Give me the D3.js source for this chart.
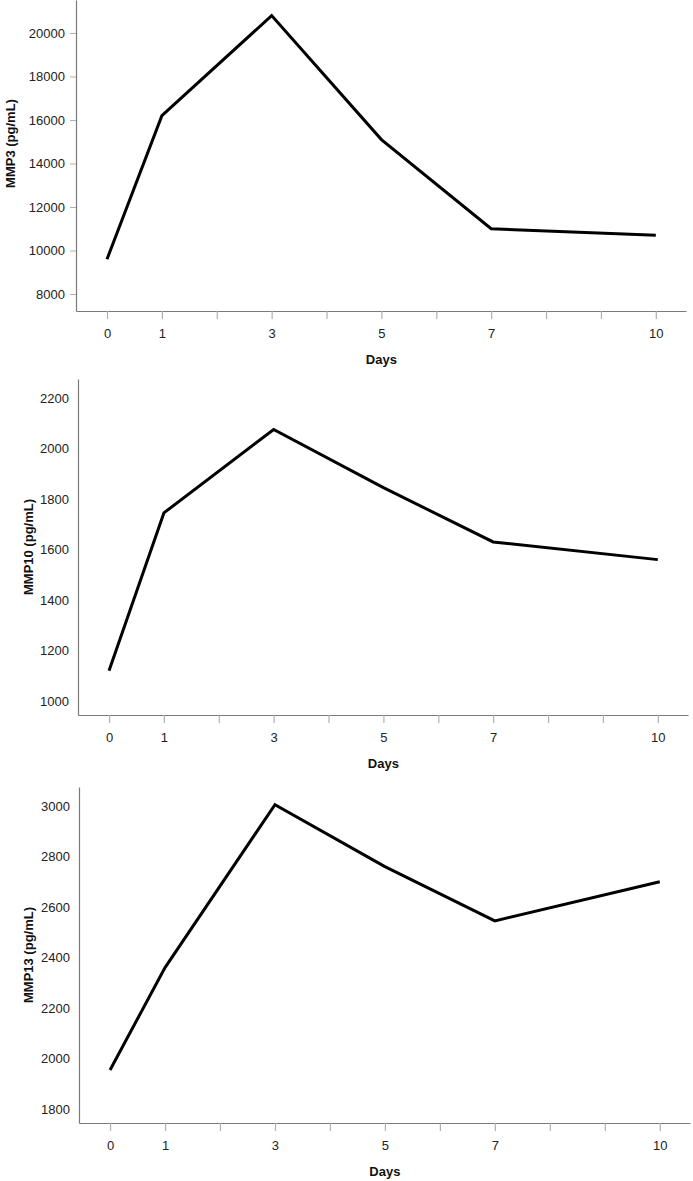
<!DOCTYPE html>
<html>
<head>
<meta charset="utf-8">
<script src="https://cdn.jsdelivr.net/npm/d3@7"></script>
<style>
  body { margin: 0; background: #fff; }
  text { font-family: "Liberation Sans", Arial, sans-serif; }
</style>
</head>
<body>
<div id="chart"></div>
<script>
// data
const days = [0, 1, 3, 5, 7, 10];
const dayLabels = [0, 1, 3, 5, 7, 10];
const mmp3 = [9600, 16200, 20800, 15100, 11000, 10700];
const mmp10 = [1120, 1745, 2075, 1845, 1630, 1560];
const mmp13 = [1955, 2360, 3005, 2760, 2545, 2700];
const mmp3Ticks = [8000, 10000, 12000, 14000, 16000, 18000, 20000];
const mmp10Ticks = [1000, 1200, 1400, 1600, 1800, 2000, 2200];
const mmp13Ticks = [1800, 2000, 2200, 2400, 2600, 2800, 3000];

const svgWidth = 693;
const svgHeight = 1181;

const svg = d3.select("#chart").append("svg")
    .attr("width", svgWidth)
    .attr("height", svgHeight);

// one panel per marker
const panels = [
    { label: "MMP3 (pg/mL)", values: mmp3, ticks: mmp3Ticks, yDomain: [7218, 21517],
      left: 76, right: 686, top: 0, bottom: 311, titleX: 10, yTicks: true },
    { label: "MMP10 (pg/mL)", values: mmp10, ticks: mmp10Ticks, yDomain: [945, 2275],
      left: 78, right: 688, top: 379, bottom: 715, titleX: 28, yTicks: false },
    { label: "MMP13 (pg/mL)", values: mmp13, ticks: mmp13Ticks, yDomain: [1745, 3075],
      left: 79, right: 690, top: 787, bottom: 1123, titleX: 28, yTicks: false },
];

panels.forEach(p => {
    const g = svg.append("g");

    const x = d3.scaleLinear()
        .domain([-0.565, 10.55])
        .range([p.left, p.right]);

    const y = d3.scaleLinear()
        .domain(p.yDomain)
        .range([p.bottom, p.top]);

    // x axis: tick at every day, labels only on sampled days
    const xAxis = g.append("g")
        .attr("transform", `translate(0,${p.bottom})`)
        .call(d3.axisBottom(x)
            .tickValues(d3.range(0, 11))
            .tickSize(8)
            .tickSizeOuter(0)
            .tickFormat(d => dayLabels.includes(d) ? d : ""));
    xAxis.select(".domain").attr("stroke", "#7a7a7a").attr("stroke-width", 1.2);
    xAxis.selectAll(".tick line").attr("stroke", "#b0b0b0").attr("stroke-width", 1.2);
    xAxis.selectAll(".tick text")
        .attr("dy", "1.25em")
        .attr("fill", "#222")
        .style("font-size", "13px");

    const yAxis = g.append("g")
        .attr("transform", `translate(${p.left},0)`)
        .call(d3.axisLeft(y)
            .tickValues(p.ticks)
            .tickSize(p.yTicks ? 6 : 0)
            .tickPadding(p.yTicks ? 5 : 9)
            .tickSizeOuter(0)
            .tickFormat(d3.format("d")));
    yAxis.select(".domain").attr("stroke", "#7a7a7a").attr("stroke-width", 1.2);
    yAxis.selectAll(".tick line").attr("stroke", "#b0b0b0");
    yAxis.selectAll(".tick text")
        .attr("fill", "#222")
        .style("font-size", "13px");

    g.append("text")
        .attr("x", x(5))
        .attr("y", p.bottom + 53)
        .attr("text-anchor", "middle")
        .style("font-size", "13px")
        .style("font-weight", "bold")
        .attr("fill", "#111")
        .text("Days");

    g.append("text")
        .attr("transform", `translate(${p.titleX},${(p.top + p.bottom) / 2 - (p.yTicks ? 12 : 0)}) rotate(-90)`)
        .attr("text-anchor", "middle")
        .attr("dy", "0.35em")
        .style("font-size", "13px")
        .style("font-weight", "bold")
        .attr("fill", "#111")
        .text(p.label);

    const line = d3.line()
        .x((d, i) => x(days[i]))
        .y(d => y(d));

    g.append("path")
        .datum(p.values)
        .attr("fill", "none")
        .attr("stroke", "#000")
        .attr("stroke-width", 3)
        .attr("stroke-linejoin", "miter")
        .attr("d", line);
});
</script>
</body>
</html>
